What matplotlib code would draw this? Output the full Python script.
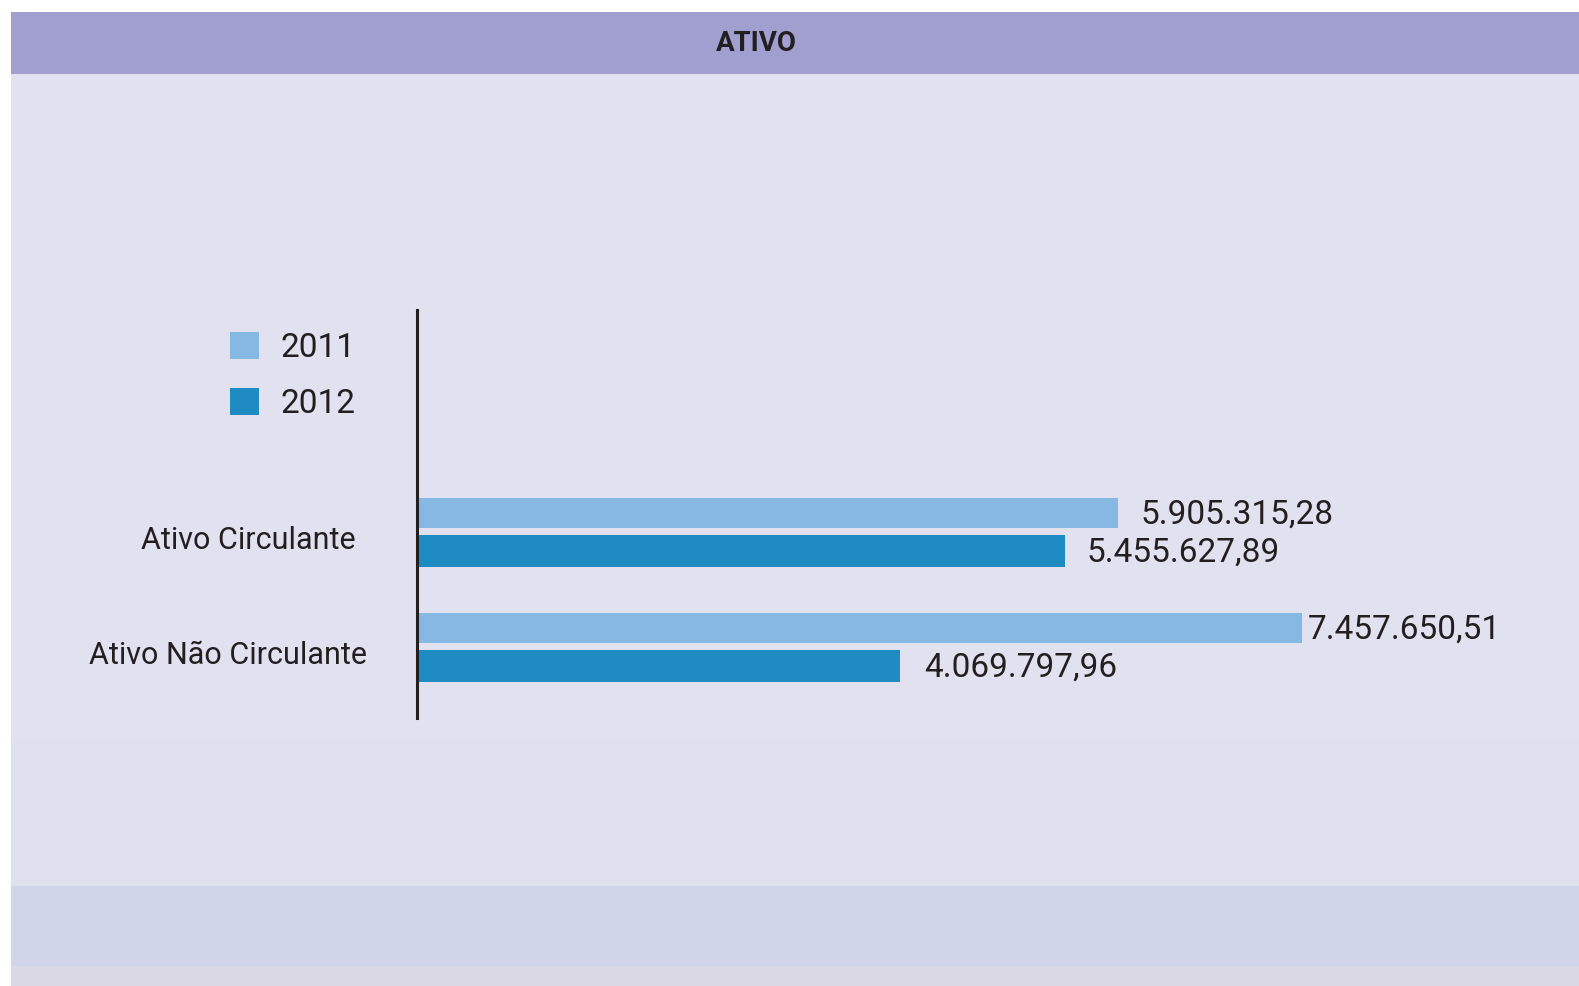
import matplotlib.pyplot as plt
import matplotlib.transforms as mtransforms
from matplotlib.patches import Rectangle
import numpy as np

# dados
categorias = ['Ativo Circulante', 'Ativo Não Circulante']
anos = ['2011', '2012']
valores_2011 = [5905315.28, 7457650.51]
valores_2012 = [5455627.89, 4069797.96]
rotulos_2011 = ['5.905.315,28', '7.457.650,51']
rotulos_2012 = ['5.455.627,89', '4.069.797,96']

cor_2011 = '#85b8e3'
cor_2012 = '#1f8bc3'
cor_texto = '#231f20'
fonte = 'Roboto'

W, H = 1579, 986
fig = plt.figure(figsize=(W / 100, H / 100), dpi=100, facecolor='white')

# fundo (coordenadas em pixels, origem no topo)
bg = fig.add_axes([0, 0, 1, 1])
bg.set_xlim(0, W)
bg.set_ylim(H, 0)
bg.axis('off')
bg.add_patch(Rectangle((11, 12), W - 11, H - 12, color='#e2e1f0', lw=0))
bg.add_patch(Rectangle((11, 740), W - 11, 150, color='#dfe1ef', lw=0))
bg.add_patch(Rectangle((11, 886), W - 11, 82, color='#d1d5e9', lw=0))
bg.add_patch(Rectangle((11, 966), W - 11, 20, color='#dad8e4', lw=0))
bg.add_patch(Rectangle((11, 12), W - 11, 62, color='#a09fcf', lw=0))
bg.text(756, 43.5, 'ATIVO', ha='center', va='center', fontsize=20,
        fontweight='bold', color=cor_texto, family=fonte)

# eixo do grafico
px_por_unidade = 1.187e-4
left, right = 417, W
top, bottom = 310, 718
ax = fig.add_axes([left / W, 1 - bottom / H, (right - left) / W, (bottom - top) / H])
ax.set_facecolor('none')
ax.set_xlim(0, (right - left) / px_por_unidade)
passo = 115.0
ax.set_ylim((bottom - 532) / passo, -(532 - top) / passo)

y = np.arange(len(categorias))
desl = 19 / passo
ax.barh(y - desl, valores_2011, height=30 / passo, color=cor_2011, label=anos[0])
ax.barh(y + desl, valores_2012, height=32 / passo, color=cor_2012, label=anos[1])

# rotulos de valor (afastamento em pontos, como no original)
afast_2011 = [16, 4]
afast_2012 = [16, 17]
for serie, rot, afast, dy in [(valores_2011, rotulos_2011, afast_2011, -desl),
                               (valores_2012, rotulos_2012, afast_2012, desl)]:
    for i, v in enumerate(serie):
        ax.annotate(rot[i], (v, y[i] + dy), xytext=(afast[i], -1.5),
                    textcoords='offset points', ha='left', va='center',
                    fontsize=24, color=cor_texto, family=fonte)

ax.set_yticks(y + 0.05)
ax.set_yticklabels(categorias, fontsize=22, color=cor_texto, family=fonte)
ax.tick_params(axis='y', length=0, pad=44)
# no original o segundo rotulo termina um pouco mais a direita
desloc = mtransforms.ScaledTranslation(8 / 72, 0, fig.dpi_scale_trans)
lbl = ax.get_yticklabels()[1]
lbl.set_transform(lbl.get_transform() + desloc)
ax.set_xticks([])
for s in ['top', 'right', 'bottom']:
    ax.spines[s].set_visible(False)
ax.spines['left'].set_color(cor_texto)
ax.spines['left'].set_linewidth(2.2)

leg = ax.legend(loc='upper left', bbox_to_anchor=(200 / W, 1 - 302 / H),
                bbox_transform=fig.transFigure, frameon=False,
                prop={'family': fonte, 'size': 24}, handlelength=0.87,
                handleheight=0.87, handletextpad=0.65, labelspacing=0.72)
for t in leg.get_texts():
    t.set_color(cor_texto)

fig.savefig('out.png', dpi=100, facecolor=fig.get_facecolor())
